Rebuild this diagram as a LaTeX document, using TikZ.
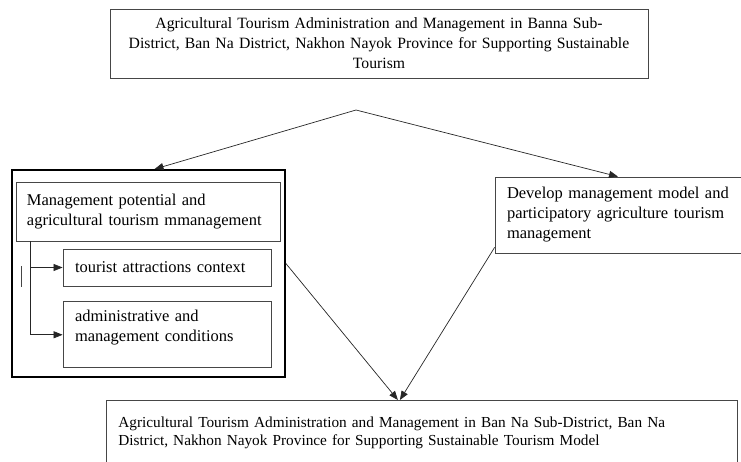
\documentclass[tikz,border=0pt]{standalone}
\usepackage{fontspec}
\setmainfont{Liberation Serif}
\usetikzlibrary{positioning, arrows.meta}

\definecolor{boxgray}{RGB}{70,70,70}

\tikzset{
	box/.style={draw=boxgray, line width=0.8pt, fill=white, inner xsep=12pt, inner ysep=6pt,
		align=left, font=\fontsize{16.5}{20}\selectfont},
	link/.style={draw=black!85, line width=0.7pt, -{Triangle[length=9pt,width=7pt]}},
}

\begin{document}
\begin{tikzpicture}[x=1pt, y=-1pt]
	\useasboundingbox (0,0) rectangle (741,461);

	\node[box, align=center, text width=514, minimum height=69, font=\fontsize{15.7}{20}\selectfont] (title) at (379,43.5)
		{Agricultural Tourism Administration and Management in Banna Sub-\\
		District, Ban Na District, Nakhon Nayok Province for Supporting Sustainable\\
		Tourism};

	% left group with its two sub-topics
	\node[draw, line width=1.8pt, minimum width=273, minimum height=207, inner sep=0] (potential) at (148.5,273.5) {};
	\node[box, inner xsep=11pt, text width=242, minimum height=59] (mgmt) at (148,211.5)
		{Management potential and\\agricultural tourism mmanagement};
	\node[box, text width=184, minimum height=37] (context) at (167,267.5) {tourist attractions context};
	\node[box, text width=184, inner ysep=8.5pt, text depth=37.5pt, below=15pt of context] (conditions)
		{administrative and\\management conditions};

	\node[box, text width=222, minimum height=76] (develop) at (618,215)
		{Develop management model and\\participatory agriculture tourism\\management};

	% result box runs off the bottom edge
	\node[box, text width=607, inner ysep=16.5pt, text depth=60pt, anchor=north west,
		font=\fontsize{15.3}{18}\selectfont] (model) at (106,400)
		{Agricultural Tourism Administration and Management in Ban Na Sub-District, Ban Na\\
		District, Nakhon Nayok Province for Supporting Sustainable Tourism Model};

	\coordinate (split) at (356,110);
	\coordinate (trunk) at ([xshift=15pt]mgmt.south west);

	\draw[link] (split) -- ([xshift=6pt]potential.north);
	\draw[link] (split) -- (develop.north);
	\draw[link] ([yshift=10pt]potential.east) -- ([xshift=-24pt]model.north);
	\draw[link] ([yshift=6pt]develop.south west) -- ([xshift=-22pt]model.north);

	\draw[link] (trunk) |- (context.west);
	\draw[link] (trunk) |- (conditions.west);
	\draw[boxgray, line width=0.8pt] (21,266) -- (21,287);
\end{tikzpicture}
\end{document}
